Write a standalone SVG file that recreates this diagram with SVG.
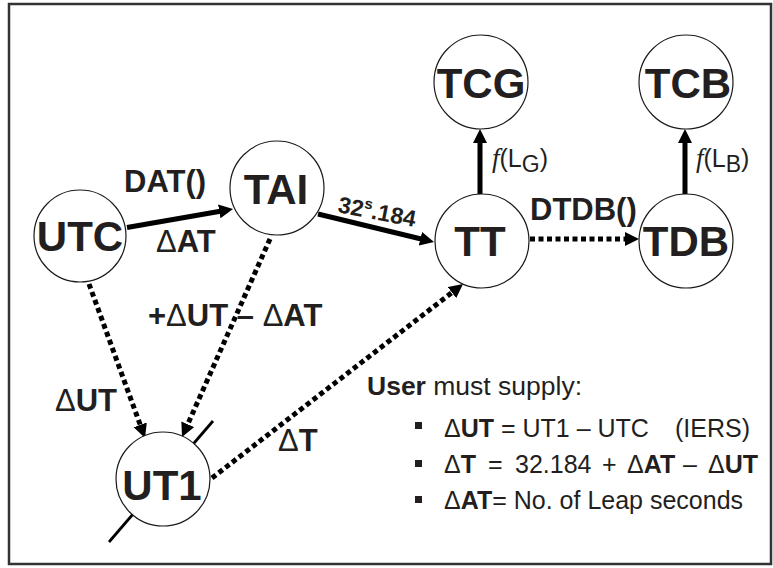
<svg xmlns="http://www.w3.org/2000/svg" width="773" height="568" viewBox="0 0 773 568">
<style>
.node circle{fill:#fff;stroke:#1a1a1a;stroke-width:1.2}
.node text{font-family:"Liberation Sans",Arial,sans-serif;font-weight:bold;font-size:42px;text-anchor:middle;fill:#231f20}
.solid{stroke:#000;stroke-width:5;fill:none}
.dot{stroke:#000;stroke-width:5;fill:none;stroke-dasharray:5 3.5}
.lbl{font-family:"Liberation Sans",Arial,sans-serif;font-weight:bold;font-size:31px;fill:#231f20}
.sup{font-family:"Liberation Sans",Arial,sans-serif;font-weight:bold;font-size:23px;fill:#231f20}
.d{font-weight:normal}
.txt{font-family:"Liberation Sans",Arial,sans-serif;font-size:25px;fill:#231f20}
.head{font-family:"Liberation Sans",Arial,sans-serif;font-size:26.5px;fill:#231f20}
.b{font-weight:bold}
.bul{fill:#231f20}
</style>
<defs>
<marker id="ah" markerUnits="userSpaceOnUse" markerWidth="15" markerHeight="15" refX="4" refY="7" orient="auto">
<path d="M0,0 L14,7 L0,14 z" fill="#000"/>
</marker>
</defs>
<rect x="9" y="4" width="762" height="560" fill="none" stroke="#333" stroke-width="2.5"/>
<g id="connectors">
<line class="solid" x1="127" y1="227.5" x2="223.2" y2="210.7" marker-end="url(#ah)"/>
<line class="solid" x1="318" y1="214" x2="424.3" y2="239.7" marker-end="url(#ah)"/>
<line class="solid" x1="480" y1="194" x2="480" y2="139" marker-end="url(#ah)"/>
<line class="solid" x1="685" y1="194" x2="685" y2="139" marker-end="url(#ah)"/>
<line class="dot" x1="530" y1="239" x2="629" y2="239" marker-end="url(#ah)"/>
<line class="dot" x1="89" y1="284" x2="141.6" y2="428.6" marker-end="url(#ah)"/>
<line class="dot" x1="270" y1="239" x2="186.1" y2="427.9" marker-end="url(#ah)"/>
<line class="dot" x1="212" y1="478" x2="455.1" y2="290.1" marker-end="url(#ah)"/>
<line x1="213" y1="421" x2="109" y2="542" stroke="#000" stroke-width="2.8"/>
</g>
<g id="UTC" class="node"><circle cx="80" cy="236" r="46"/><text x="80" y="251">UTC</text></g>
<g id="TAI" class="node"><circle cx="277" cy="188" r="47"/><text x="276" y="204">TAI</text></g>
<g id="TT" class="node"><circle cx="482" cy="241" r="47"/><text x="480" y="256">TT</text></g>
<g id="TDB" class="node"><circle cx="686" cy="241" r="47"/><text x="686" y="256">TDB</text></g>
<g id="TCG" class="node"><circle cx="481" cy="82" r="47"/><text x="481" y="98">TCG</text></g>
<g id="TCB" class="node"><circle cx="686" cy="82" r="47"/><text x="688" y="98">TCB</text></g>
<g id="UT1" class="node"><circle cx="163" cy="479" r="47"/><text x="162" y="500">UT1</text></g>
<g id="labels">
<text class="lbl" x="124" y="192">DAT()</text>
<text class="lbl" x="156" y="252"><tspan class="d">Δ</tspan>AT</text>
<text class="lbl" x="530" y="220">DTDB()</text>
<text class="lbl" x="148" y="326">+<tspan class="d">Δ</tspan>UT – <tspan class="d">Δ</tspan>AT</text>
<text class="lbl" x="55" y="411"><tspan class="d">Δ</tspan>UT</text>
<text class="lbl" x="278" y="451"><tspan class="d">Δ</tspan>T</text>
<text class="sup" transform="translate(337,212) rotate(11)">32<tspan font-size="15" dy="-9">s</tspan><tspan dy="9">.184</tspan></text>
<text class="txt" x="492" y="167"><tspan font-family="Liberation Serif,serif" font-style="italic" font-size="27">f</tspan>(L<tspan font-size="23" dy="5">G</tspan><tspan dy="-5">)</tspan></text>
<text class="txt" x="696" y="167"><tspan font-family="Liberation Serif,serif" font-style="italic" font-size="27">f</tspan>(L<tspan font-size="23" dy="5">B</tspan><tspan dy="-5">)</tspan></text>
</g>
<g id="notes">
<text class="head" x="367" y="395"><tspan class="b">User</tspan> must supply:</text>
<rect class="bul" x="415" y="422" width="7" height="7"/>
<rect class="bul" x="415" y="460" width="7" height="7"/>
<rect class="bul" x="415" y="496" width="7" height="7"/>
<text class="txt" x="444" y="437">Δ<tspan class="b">UT</tspan> = UT1 – UTC<tspan x="675">(IERS)</tspan></text>
<text class="txt" x="444" y="473">Δ<tspan class="b">T</tspan><tspan x="488">=</tspan><tspan x="515">32.184</tspan><tspan x="602">+</tspan><tspan x="627">Δ</tspan><tspan class="b">AT</tspan><tspan x="683">–</tspan><tspan x="708">Δ</tspan><tspan class="b">UT</tspan></text>
<text class="txt" x="444" y="509">Δ<tspan class="b">AT</tspan>= No. of Leap seconds</text>
</g>
</svg>
